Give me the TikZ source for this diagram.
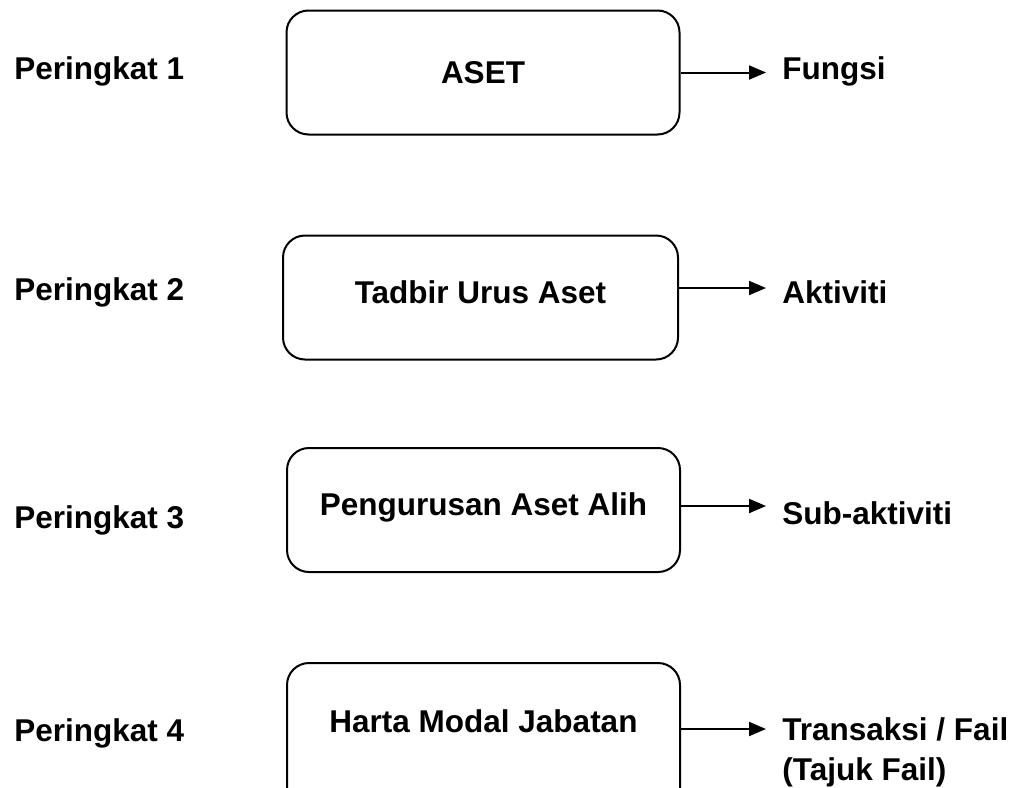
\documentclass[tikz,border=0pt]{standalone}
\usepackage{fontspec}
\setmainfont{Liberation Sans}
\usetikzlibrary{arrows.meta,positioning}
\tikzstyle{box} = [rectangle, draw, line width=1pt, rounded corners=11pt,
    minimum width=196.5pt, minimum height=62pt, text height=11.3pt]
\tikzstyle{level} = [anchor=base west, inner sep=0pt]
\tikzstyle{line} = [-{Triangle[length=8.5pt,width=7pt]}, line width=1pt,
    shorten >=8pt]

\begin{document}
\begin{tikzpicture}[x=0.5pt, y=-0.5pt, font=\fontsize{15.75}{20}\selectfont\bfseries]
    \clip (0,0) rectangle (1021,787);
    % Place nodes
    \node [level] (p1) at (14,79) {Peringkat 1};
    \node [level] (p2) at (14,300) {Peringkat 2};
    \node [level] (p3) at (14,528) {Peringkat 3};
    \node [level] (p4) at (14,741) {Peringkat 4};
    \node [box, text depth=0pt] (aset) at (483,72.5) {ASET};
    \node [box, text depth=5.5pt, minimum width=197.5pt] (tadbir) at (480.5,297.5)
    {Tadbir Urus Aset};
    \node [box, text depth=6pt] (pengurusan) at (483.5,510)
    {Pengurusan Aset Alih};
    \node [box, text depth=17pt, minimum height=75pt, anchor=north] (harta)
    at (483.5,662) {Harta Modal Jabatan};
    \node [level] (fungsi) at (782,79) {Fungsi};
    \node [level] (aktiviti) at (782,303) {Aktiviti};
    \node [level] (subaktiviti) at (782,524) {Sub-aktiviti};
    \node [level, anchor=north west, align=left] (transaksi) at (782,717)
    {Transaksi / Fail\\(Tajuk Fail)};
    % Draw edges
    \coordinate (a1) at (aset.east);
    \coordinate (a2) at ([yshift=4.75pt]tadbir.east);
    \coordinate (a3) at ([yshift=2pt]pengurusan.east);
    \coordinate (a4) at ([yshift=4.5pt]harta.east);
    \draw [line] (a1) -- (a1 -| fungsi.west);
    \draw [line] (a2) -- (a2 -| aktiviti.west);
    \draw [line] (a3) -- (a3 -| subaktiviti.west);
    \draw [line] (a4) -- (a4 -| transaksi.west);
\end{tikzpicture}
\end{document}
